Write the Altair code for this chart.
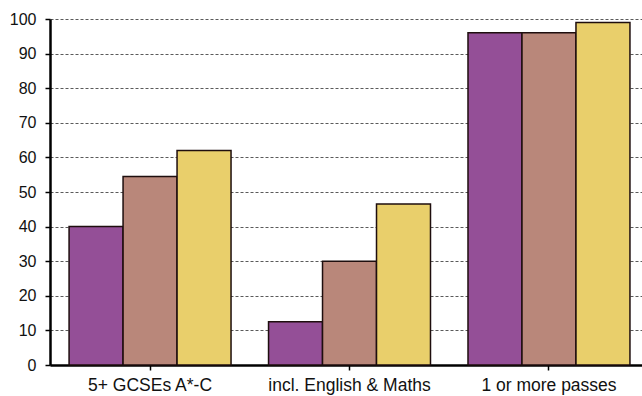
import altair as alt
import pandas as pd

# Exam results by measure, three series per group
categories = ["5+ GCSEs A*-C", "incl. English & Maths", "1 or more passes"]
series = ["Series 1", "Series 2", "Series 3"]
series1 = [40, 12.5, 96]
series2 = [54.5, 30, 96]
series3 = [62, 46.5, 99]
colors = ["#944f97", "#b9877a", "#e9cf6b"]

rows = []
for name, vals in zip(series, [series1, series2, series3]):
    for cat, v in zip(categories, vals):
        rows.append({"measure": cat, "series": name, "value": v})
df = pd.DataFrame(rows)

chart = (
    alt.Chart(df)
    .mark_bar(stroke="#1e0e0e", strokeWidth=1.5)
    .encode(
        x=alt.X(
            "measure:N",
            sort=categories,
            title=None,
            scale=alt.Scale(paddingInner=0.188, paddingOuter=0.078, align=0.613),
            axis=alt.Axis(
                labelAngle=0,
                labelFont="Liberation Sans",
                labelFontSize=17.5,
                labelColor="#111111",
                labelPadding=6,
                domainColor="#000000",
                domainWidth=2.5,
                tickColor="#000000",
                tickSize=5,
                tickWidth=1.5,
                grid=False,
            ),
        ),
        xOffset=alt.XOffset("series:N", sort=series, scale=alt.Scale(paddingInner=0, paddingOuter=0)),
        y=alt.Y(
            "value:Q",
            title=None,
            scale=alt.Scale(domain=[0, 100], nice=False),
            axis=alt.Axis(
                values=list(range(0, 101, 10)),
                labelFont="Liberation Sans",
                labelFontSize=16,
                labelColor="#111111",
                labelPadding=9,
                domainColor="#000000",
                domainWidth=2.5,
                tickColor="#000000",
                tickSize=5,
                tickWidth=1.5,
                grid=True,
                gridColor="#5a5a5a",
                gridDash=[3, 2],
                gridWidth=1,
            ),
        ),
        color=alt.Color("series:N", sort=series, scale=alt.Scale(domain=series, range=colors), legend=None),
    )
    .properties(
        width=592,
        height=346,
        autosize=alt.AutoSizeParams(type="none"),
        padding={"left": 50, "top": 19, "right": 0, "bottom": 31},
        background="#ffffff",
    )
    .configure_view(strokeWidth=0)
)

chart.save("out.html", embed_options={"renderer": "svg", "actions": False})
